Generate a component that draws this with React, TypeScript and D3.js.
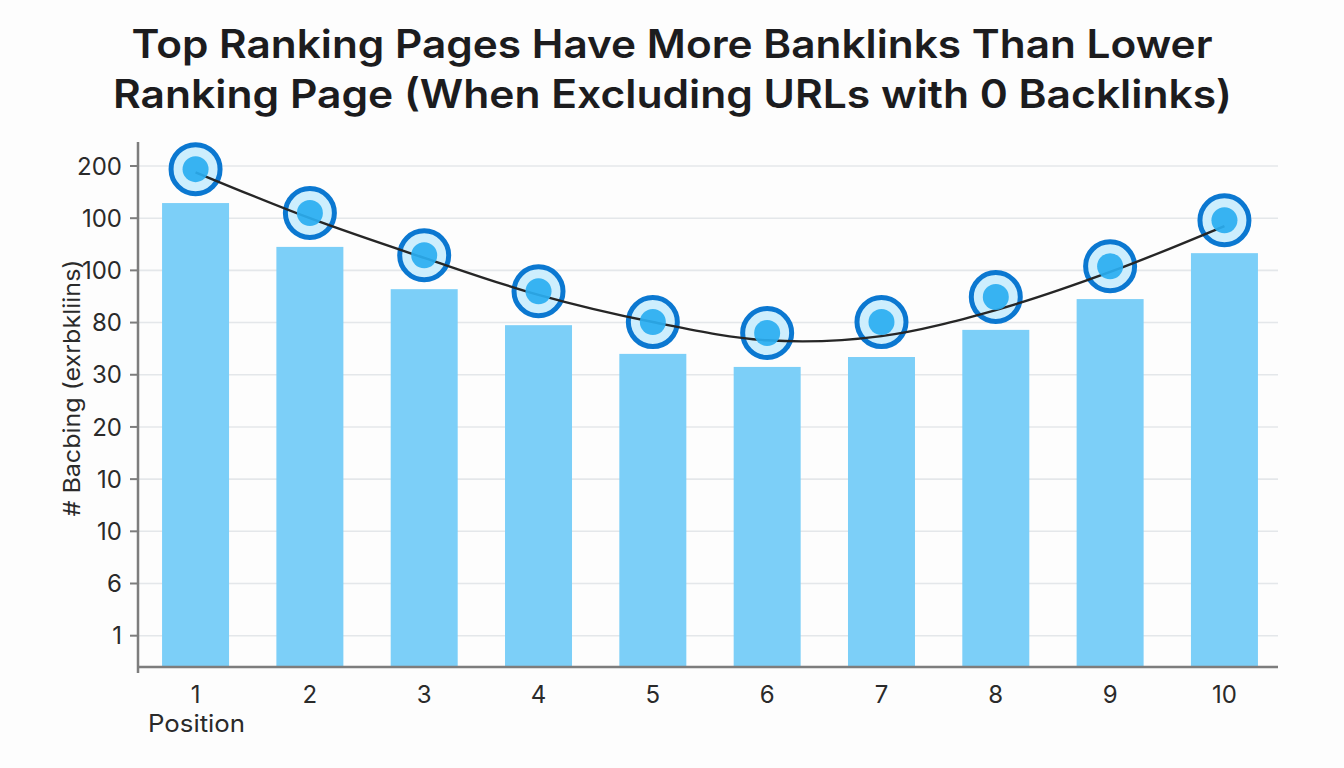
import React from "react";
import * as d3 from "d3";

const titleLines = [
  "Top Ranking Pages Have More Banklinks Than Lower",
  "Ranking Page (When Excluding URLs with 0 Backlinks)",
];
const yAxisTitle = "# Bacbing (exrbkliins)";
const xAxisTitle = "Position";

const positions = ["1", "2", "3", "4", "5", "6", "7", "8", "9", "10"];
// tick labels from bottom to top (as printed in the source)
const yTickLabels = ["1", "6", "10", "10", "20", "30", "80", "100", "100", "200"];
// values are in tick-slot units (tick i sits at 0.6 + i)
const barValues = [8.89, 8.05, 7.24, 6.55, 6.0, 5.75, 5.94, 6.46, 7.05, 7.93];
const markerValues = [9.54, 8.7, 7.89, 7.2, 6.61, 6.4, 6.61, 7.09, 7.68, 8.56];
const trendValues = [9.48, 8.6, 7.84, 7.13, 6.61, 6.26, 6.34, 6.84, 7.57, 8.45];

const W = 1344;
const H = 768;
const FONT = "Inter, 'Open Sans', 'DejaVu Sans', sans-serif";

export default function App() {
  const axisX0 = 138;
  const axisX1 = 1278;
  const baseY = 667;
  const topY = 142;

  const x = d3
    .scaleBand<string>()
    .domain(positions)
    .range([140, 1280])
    .paddingInner(0.414)
    .paddingOuter(0.193);
  const y = d3.scaleLinear().domain([0, 10.06]).range([baseY, topY]);

  const tickVals = yTickLabels.map((_, i) => 0.6 + i);

  const cx = (p: string) => (x(p) as number) + x.bandwidth() / 2;

  const line = d3
    .line<number>()
    .x((_, i) => cx(positions[i]))
    .y((v) => y(v))
    .curve(d3.curveCatmullRom.alpha(0.5));

  const trendPath = line(trendValues) || "";

  return (
    <svg
      width={W}
      height={H}
      viewBox={`0 0 ${W} ${H}`}
      style={{ position: "fixed", left: 0, top: 0, display: "block", background: "#fdfdfd" }}
      fontFamily={FONT}
    >
      <rect x={0} y={0} width={W} height={H} fill="#fdfdfd" />
      {/* Title */}
      <text
        x={672}
        y={58}
        textAnchor="middle"
        fontSize={39}
        fontWeight={600}
        fill="#1c1c1e"
        textLength={1081}
        lengthAdjust="spacingAndGlyphs"
      >
        {titleLines[0]}
      </text>
      <text
        x={672.5}
        y={108}
        textAnchor="middle"
        fontSize={39}
        fontWeight={600}
        fill="#1c1c1e"
        textLength={1119}
        lengthAdjust="spacingAndGlyphs"
      >
        {titleLines[1]}
      </text>

      {/* Gridlines */}
      {tickVals.map((v, i) => (
        <line
          key={"g" + i}
          x1={axisX0}
          x2={axisX1}
          y1={y(v)}
          y2={y(v)}
          stroke="#e4e7ea"
          strokeWidth={1.6}
        />
      ))}

      {/* Bars */}
      {positions.map((p, i) => (
        <rect
          key={"b" + p}
          x={x(p)}
          y={y(barValues[i])}
          width={x.bandwidth()}
          height={baseY - y(barValues[i])}
          fill="#7ccff8"
        />
      ))}

      {/* Axes */}
      <line x1={axisX0} x2={axisX0} y1={topY} y2={673} stroke="#7d7d7d" strokeWidth={2.5} />
      <line x1={axisX0 - 1} x2={axisX1} y1={baseY} y2={baseY} stroke="#7d7d7d" strokeWidth={2.5} />
      {tickVals.map((v, i) => (
        <g key={"t" + i}>
          <line x1={axisX0 - 8} x2={axisX0} y1={y(v)} y2={y(v)} stroke="#7d7d7d" strokeWidth={2} />
          <text
            x={122}
            y={y(v)}
            dy="0.36em"
            textAnchor="end"
            fontSize={24}
            fill="#2a2a2a"
          >
            {yTickLabels[i]}
          </text>
        </g>
      ))}
      {positions.map((p) => (
        <text key={"x" + p} x={cx(p)} y={703} textAnchor="middle" fontSize={24} fill="#2a2a2a">
          {p}
        </text>
      ))}
      <text
        x={196.5}
        y={732}
        textAnchor="middle"
        fontSize={24}
        fill="#2a2a2a"
        textLength={97}
        lengthAdjust="spacingAndGlyphs"
      >
        {xAxisTitle}
      </text>
      <text
        transform={`translate(80, 388) rotate(-90)`}
        textAnchor="middle"
        fontSize={23}
        fill="#2a2a2a"
        textLength={257}
        lengthAdjust="spacingAndGlyphs"
      >
        {yAxisTitle}
      </text>

      {/* Markers: ring + light fill */}
      {positions.map((p, i) => (
        <circle
          key={"m" + p}
          cx={cx(p)}
          cy={y(markerValues[i])}
          r={24.5}
          fill="#cdeefd"
          stroke="#0b78d1"
          strokeWidth={5}
        />
      ))}

      {/* Trend line */}
      <path d={trendPath} fill="none" stroke="#262626" strokeWidth={2.4} />

      {/* Inner dots */}
      {positions.map((p, i) => (
        <circle
          key={"d" + p}
          cx={cx(p)}
          cy={y(markerValues[i])}
          r={13}
          fill="#2aaef1"
          fillOpacity={0.92}
        />
      ))}
    </svg>
  );
}
